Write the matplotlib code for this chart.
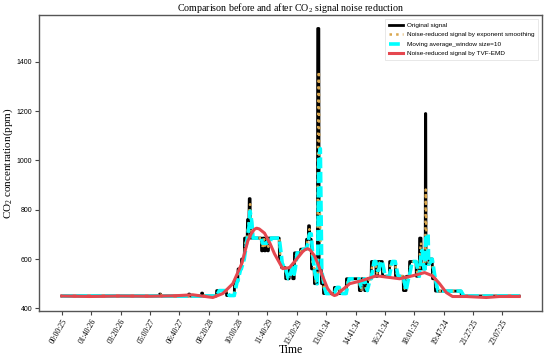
import numpy as np
import pandas as pd
import matplotlib
matplotlib.use("Agg")
import matplotlib.pyplot as plt

# ---- data ----
# Original CO2 signal as run-length steps: level (ppm) and duration (samples)
orig_levels = [450, 458, 450, 458, 450, 462, 450, 472, 452, 510, 560, 600, 685, 760, 845,
               685, 633, 685, 633, 685, 633, 685, 593, 565, 520, 565, 520, 625, 640, 680,
               735, 680, 560, 500, 1535, 560, 500, 460, 485, 460, 520, 472, 520, 472, 520,
               590, 530, 590, 530, 590, 530, 472, 530, 590, 530, 685, 560, 1190, 580, 600,
               520, 470, 450]
orig_lengths = [333, 4, 95, 4, 40, 4, 47, 34, 27, 12, 12, 10, 10, 6, 4,
                38, 4, 6, 4, 7, 3, 37, 7, 14, 13, 11, 6, 21, 20, 7,
                4, 6, 10, 11, 5, 8, 7, 37, 17, 24, 44, 7, 11, 10, 13,
                16, 6, 16, 24, 20, 27, 10, 11, 23, 11, 6, 14, 2, 12, 10,
                10, 88, 198]

# TVF-EMD noise-reduced curve (sample index, ppm)
tvf_idx = [0, 95, 197, 299, 384, 446, 476, 514, 548, 582, 612, 633, 645, 655, 663, 672,
           690, 708, 724, 752, 775, 803, 820, 828, 837, 846, 860, 872, 884, 905, 920, 928, 936, 952,
           980, 1020, 1071, 1150, 1194, 1235, 1262, 1286, 1309, 1330, 1377, 1445, 1490, 1557]
tvf_val = [450, 448, 450, 449, 451, 455, 450, 444, 460, 500, 580, 673, 703, 720, 725, 722,
           705, 665, 621, 561, 565, 605, 630, 638, 642, 636, 613, 580, 541, 480, 457, 452, 455, 472,
           500, 512, 532, 520, 532, 545, 532, 500, 464, 448, 448, 444, 448, 448]

tick_pos = [0, 100, 200, 300, 400, 500, 600, 700, 800, 900, 1000, 1100, 1200, 1300, 1400, 1500]
tick_labels = ["00:00:25", "01:40:26", "03:20:26", "05:00:27", "06:40:27", "08:20:28",
               "10:00:28", "11:40:29", "13:20:29", "13:01:34", "14:41:34", "16:21:34",
               "18:01:35", "19:47:24", "21:27:25", "23:07:25"]

window = 10
alpha_es = 0.3

# ---- derived series ----
original = pd.Series(np.repeat(orig_levels, orig_lengths).astype(float))
x = np.arange(len(original))
exp_smooth = original.ewm(alpha=alpha_es, adjust=False).mean()
moving_avg = original.rolling(window, min_periods=1).mean()

# ---- plotting ----
plt.rcParams["mathtext.fontset"] = "custom"
plt.rcParams["mathtext.rm"] = "Liberation Serif"
plt.rcParams["mathtext.it"] = "Liberation Serif:italic"
plt.rcParams["mathtext.bf"] = "Liberation Serif:bold"

fig = plt.figure(figsize=(5.5, 3.57), dpi=100)
ax = fig.add_axes([0.0709, 0.129, 0.9146, 0.829])

ax.plot(x, original, color="black", lw=2.0, label="Original signal")
ax.plot(x, exp_smooth, color="#D9A74F", lw=1.8, ls=":", label="Noise-reduced signal by exponent smoothing")
ax.plot(x, moving_avg, color="cyan", lw=2.6, dashes=(3, 1), label="Moving average_window size=10")
ax.plot(tvf_idx, tvf_val, color="#E5474F", lw=2.2, label="Noise-reduced signal by TVF-EMD")

ax.set_xticks(tick_pos)
ax.set_xticklabels(tick_labels, rotation=60, ha="right", rotation_mode="anchor",
                   fontsize=5.6, family="Liberation Serif")
ax.set_yticks([400, 600, 800, 1000, 1200, 1400])
for lab in ax.get_yticklabels():
    lab.set_family("Liberation Sans")
    lab.set_fontsize(5.0)
ax.tick_params(axis="both", direction="out", length=3, width=0.8, color="#444444", pad=2)

for s in ax.spines.values():
    s.set_color("#555555")
    s.set_linewidth(1.0)

ax.set_title("Comparison before and after CO$_2$ signal noise reduction",
             family="Liberation Serif", fontsize=7.2, pad=3)
ax.set_xlabel("Time", family="Liberation Serif", fontsize=8.5)
ax.xaxis.set_label_coords(0.5, -0.112)
ax.set_ylabel("CO$_2$ concentration(ppm)", family="Liberation Serif", fontsize=8.0)
ax.yaxis.set_label_coords(-0.047, 0.5)

leg = ax.legend(loc="upper right", prop={"family": "Liberation Sans", "size": 4.6},
                frameon=True, fancybox=False, edgecolor="#dddddd", handlelength=2.2,
                handletextpad=0.6, borderpad=0.6, labelspacing=0.6, borderaxespad=0.6)
leg.get_frame().set_linewidth(0.6)

fig.savefig("out.png", dpi=100)
